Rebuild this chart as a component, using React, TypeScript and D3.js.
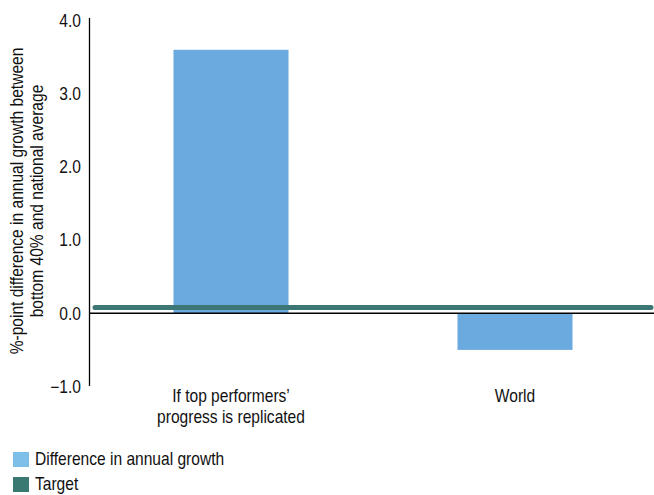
import React from "react";
import * as d3 from "d3";

const categories = ["If top performers’\nprogress is replicated", "World"];
const differenceValues = [3.6, -0.5];
const targetValue = 0.08;
const yTicks = [-1, 0, 1, 2, 3, 4];
const legendItems = ["Difference in annual growth", "Target"];

const W = 654;
const H = 495;
const FONT = "'Liberation Sans', Arial, sans-serif";
const SX = 0.89;

export default function App() {
  const y = d3.scaleLinear().domain([-1, 4]).range([386.5, 20.5]);
  const x = d3.scaleBand<string>().domain(categories).range([89, 657]).padding(0);
  const bw = x.bandwidth() * 0.405;
  const barColor = "#6aaadf";
  const targetColor = "#3c7775";
  const fs = 17.5;
  return (
    <svg width={W} height={H} style={{ position: "absolute", left: 0, top: 0 }} fontFamily={FONT}>
      {/* y axis title */}
      <text transform={`translate(23,201) rotate(-90) scale(${SX},1)`} textAnchor="middle" fontSize={17.5} fill="#111">
        %-point difference in annual growth between
      </text>
      <text transform={`translate(43,201) rotate(-90) scale(${SX},1)`} textAnchor="middle" fontSize={17.5} fill="#111">
        bottom 40% and national average
      </text>
      {/* ticks */}
      {yTicks.map((t) => (
        <text key={t} transform={`translate(81,${y(t)}) scale(${SX},1)`} dy="0.36em" textAnchor="end" fontSize={fs} fill="#111">
          {d3.format(".1f")(t)}
        </text>
      ))}
      {/* bars */}
      {categories.map((c, i) => {
        const v = differenceValues[i];
        const cx = (x(c) as number) + x.bandwidth() / 2;
        return (
          <rect key={c} x={cx - bw / 2} width={bw} y={y(Math.max(0, v))} height={Math.abs(y(v) - y(0))} fill={barColor} />
        );
      })}
      {/* y axis line */}
      <line x1={89.5} x2={89.5} y1={18} y2={386} stroke="#000" strokeWidth={1.3} />
      {/* zero line */}
      <line x1={89} x2={654} y1={y(0)} y2={y(0)} stroke="#000" strokeWidth={1.5} />
      {/* target line */}
      <line x1={95} x2={651} y1={y(targetValue)} y2={y(targetValue)} stroke={targetColor} strokeWidth={5} strokeLinecap="round" />
      {/* category labels */}
      {categories.map((c) => {
        const cx = (x(c) as number) + x.bandwidth() / 2;
        const lines = c.split("\n");
        return (
          <g key={c} transform={`translate(${cx},402) scale(${SX},1)`}>
            {lines.map((l, j) => (
              <text key={j} x={0} y={j * 21} textAnchor="middle" fontSize={fs} fill="#111">{l}</text>
            ))}
          </g>
        );
      })}
      {/* legend */}
      {legendItems.map((l, i) => (
        <g key={l} transform={`translate(13,${452 + i * 25})`}>
          <rect width={16} height={15} fill={i === 0 ? "#7dbfe8" : "#3a7872"} />
          <text transform={`translate(22,7.5) scale(${SX},1)`} dy="0.34em" fontSize={fs} fill="#111">{l}</text>
        </g>
      ))}
    </svg>
  );
}
